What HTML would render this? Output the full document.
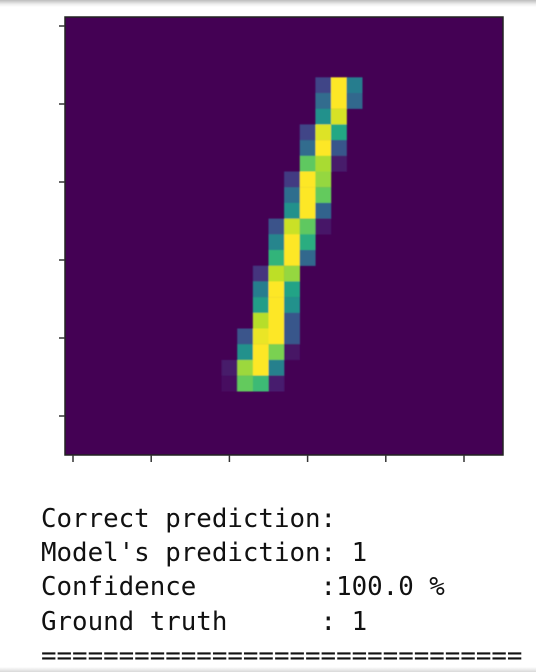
<!DOCTYPE html>
<html>
<head>
<meta charset="utf-8">
<style>
html,body{margin:0;padding:0;background:#fff;}
#stage{position:relative;width:536px;height:672px;overflow:hidden;background:#fff;}
#top-edge{position:absolute;left:0;top:0;width:536px;height:7px;background:linear-gradient(#bcbcbc,#eeeeee 60%,#fff);}
#bottom-edge{position:absolute;left:0;top:667px;width:536px;height:5px;background:linear-gradient(#fff,#d8d8d8);}
#chart{position:absolute;left:0;top:0;}
.line{position:absolute;left:41px;font:25.8px/34px "DejaVu Sans Mono","Liberation Mono",monospace;color:#111;white-space:pre;filter:blur(.3px);}
</style>
</head>
<body>
<div id="stage">
<div id="top-edge"></div>
<svg id="chart" width="536" height="672" xmlns="http://www.w3.org/2000/svg">
  <defs>
    <filter id="soft" x="-2%" y="-2%" width="104%" height="104%"><feGaussianBlur stdDeviation="0.4"/></filter>
    <clipPath id="axes-clip"><rect x="65" y="17" width="438" height="438"/></clipPath>
  </defs>
</svg>
<div class="line" style="top:502px">Correct prediction:</div>
<div class="line" style="top:536px">Model's prediction: 1</div>
<div class="line" style="top:570px">Confidence        :100.0 %</div>
<div class="line" style="top:605px">Ground truth      : 1</div>
<div class="line" style="top:639px">===============================</div>
<div id="bottom-edge"></div>
</div>
<script>
const xTickValues = [0, 5, 10, 15, 20, 25];
const yTickValues = [0, 5, 10, 15, 20, 25];
const gridSize = 28;
const digitFirstRow = 4;
const rowStartColumns = [16,16,16,15,15,15,14,14,14,13,13,13,12,12,12,12,11,11,10,10];
const rowPixelValues = [
  [0.20,1.00,0.42],
  [0.35,1.00,0.33],
  [0.50,0.94],
  [0.20,0.95,0.60],
  [0.35,1.00,0.27],
  [0.75,0.87,0.07],
  [0.17,1.00,0.84],
  [0.36,1.00,0.76],
  [0.50,1.00,0.32],
  [0.25,0.92,0.75,0.06],
  [0.45,1.00,0.62],
  [0.65,1.00,0.33],
  [0.15,0.90,0.84],
  [0.42,1.00,0.58],
  [0.55,1.00,0.50],
  [0.89,1.00,0.27],
  [0.26,0.97,1.00,0.27],
  [0.50,1.00,0.80,0.05],
  [0.07,0.85,1.00,0.43],
  [0.04,0.76,0.68,0.08]
];
const viridisStops = ["#440154","#482475","#414487","#355f8d","#2a788e","#21918c","#22a884","#44bf70","#7ad151","#bddf26","#fde725"];

const svgNS = "http://www.w3.org/2000/svg";
const chart = document.getElementById("chart");
const cellW = 15.63, cellH = 15.7;
function colX(c){ return 65.3 + cellW * c; }
function rowY(r){ return 14.5 + cellH * r; }
function tickX(v){ return 73 + 15.64 * v; }
function tickY(v){ return 26 + 15.6 * v; }
function hexToRgb(h){ return [1,3,5].map(i => parseInt(h.substr(i,2),16)); }
function viridis(v){
  const t = Math.max(0, Math.min(1, v)) * (viridisStops.length - 1);
  const i = Math.min(Math.floor(t), viridisStops.length - 2);
  const a = hexToRgb(viridisStops[i]), b = hexToRgb(viridisStops[i+1]);
  const f = t - i;
  return "rgb(" + a.map((x,k) => Math.round(x + (b[k]-x)*f)).join(",") + ")";
}
function make(tag, attrs, parent){
  const el = document.createElementNS(svgNS, tag);
  for (const k in attrs) el.setAttribute(k, attrs[k]);
  parent.appendChild(el);
  return el;
}

const background = make("rect", {x:65,y:17,width:438,height:438,fill:viridis(0)}, chart);



const cellGroup = make("g", {"clip-path":"url(#axes-clip)"}, chart);


const softGroup = make("g", {filter:"url(#soft)"}, cellGroup);

rowPixelValues.forEach((values, i) => {
  const r = digitFirstRow + i;
  values.forEach((v, j) => {
    const c = rowStartColumns[i] + j;
    const cell = make("rect", {x:colX(c),y:rowY(r),width:cellW+0.2,height:cellH+0.2,fill:viridis(v)}, softGroup);
    
    
  });
});

const frame = make("rect", {x:65,y:17,width:438,height:438,fill:"none",stroke:"#222",'stroke-width':1.5}, chart);



xTickValues.forEach(v => {
  const t = make("line", {x1:tickX(v),x2:tickX(v),y1:455,y2:462,stroke:"#333",'stroke-width':1.5}, chart);
  
  
});
yTickValues.forEach(v => {
  const t = make("line", {x1:59,x2:65,y1:tickY(v),y2:tickY(v),stroke:"#333",'stroke-width':1.5}, chart);
  
  
});
</script>
</body>
</html>
